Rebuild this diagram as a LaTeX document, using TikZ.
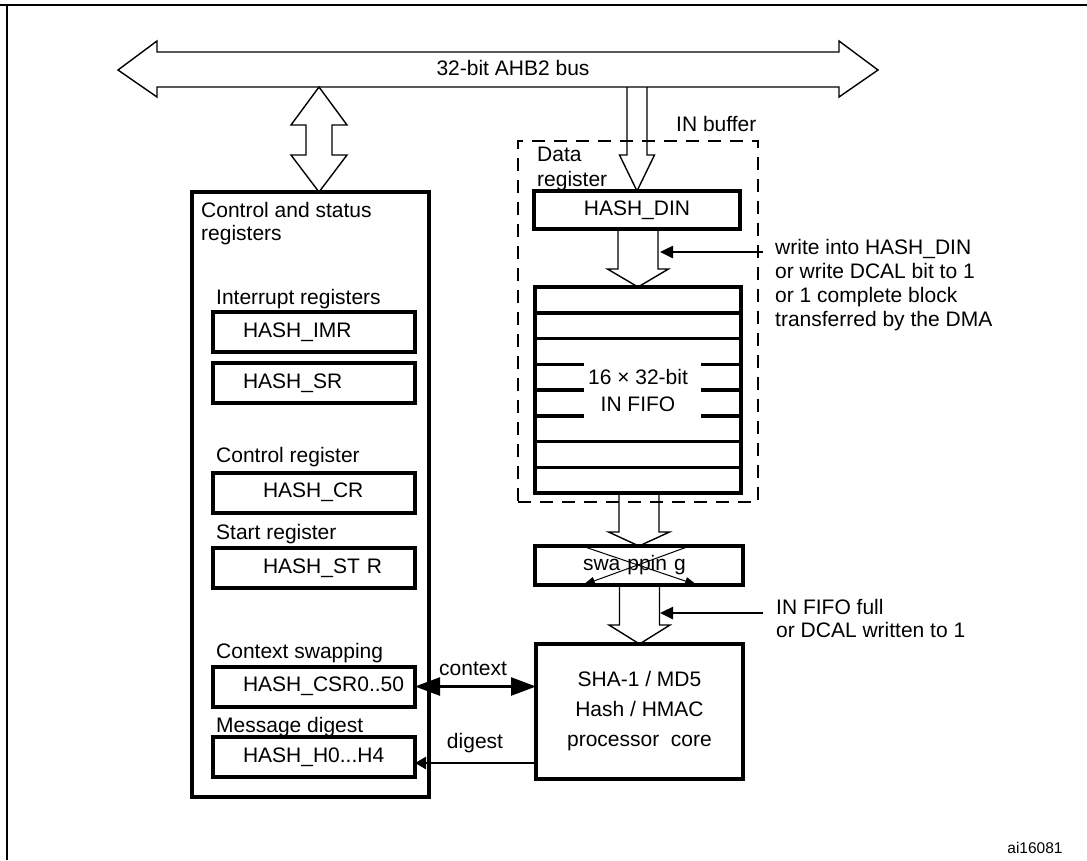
\documentclass[tikz,border=0pt]{standalone}
\usepackage{fontspec}
\setmainfont{Liberation Sans}
\usetikzlibrary{calc,arrows.meta}

% hollow block arrow pointing down: from, to, half shaft, half head, head length
\newcommand{\hollowdown}[5]{%
  \draw[hollow] let \p1 = (#1), \p2 = (#2) in
    (\x2-#3pt,\y1) -- (\x2-#3pt,\y2+#5pt) -- (\x2-#4pt,\y2+#5pt) -- (\x2,\y2)
    -- (\x2+#4pt,\y2+#5pt) -- (\x2+#3pt,\y2+#5pt) -- (\x2+#3pt,\y1);}

\begin{document}
\begin{tikzpicture}[x=1pt, y=-1pt,
                    font=\fontsize{21}{24}\selectfont,
                    blk/.style = {draw, line width=4pt, inner sep=0pt, outer sep=0pt},
                    reg/.style = {blk, minimum width=202pt, minimum height=40pt, align=left},
                    hollow/.style = {line width=1.4pt, line join=miter},
                    row/.style = {line width=3.5pt},
                    trig/.style = {line width=2.5pt, -{Triangle[length=13pt, width=12pt]}},
                    swp/.style = {line width=1pt, -{Triangle[length=12pt, width=8pt]}},
                    lbl/.style = {anchor=base west, inner sep=0pt},
                    para/.style = {anchor=north west, inner sep=0pt, align=left}
                ]
                \useasboundingbox (0,0) rectangle (1087,860);

                % frame
                \draw[line width=2.5pt] (0,5) -- (1087,5);
                \draw[line width=2.5pt] (7,5) -- (7,860);

                % bus
                \draw[hollow] (118,70) -- (157,41) -- (157,52) -- (839,52) -- (839,41) -- (878,70)
                    -- (839,97) -- (839,87) -- (157,87) -- (157,97) -- cycle;
                \node (bus) at (513,68) {32-bit AHB2 bus};
                \coordinate (busL) at (319,87);
                \coordinate (busR) at (638,87);

                % control and status registers
                \node[blk, minimum width=237pt, minimum height=605pt] (ctrl) at (310.5,494.5) {};
                \draw[hollow] let \p1 = (busL), \p2 = (ctrl.north) in
                    (\x1,\y1) -- (\x1+28pt,\y1-38pt) -- (\x1+13pt,\y1-38pt) -- (\x1+13pt,\y2+37pt)
                    -- (\x1+28pt,\y2+37pt) -- (\x1,\y2) -- (\x1-28pt,\y2+37pt) -- (\x1-13pt,\y2+37pt)
                    -- (\x1-13pt,\y1-38pt) -- (\x1-28pt,\y1-38pt) -- cycle;

                \node[para, font=\fontsize{21}{23}\selectfont] (ctrllbl) at (201,202) {Control and status\\registers};
                \node[lbl] (irqlbl) at (216,304.5) {Interrupt registers};
                \node[reg, text width=142pt] (imr) at (314,332) {HASH\_IMR};
                \node[reg, text width=142pt] (sr) at (314,383) {HASH\_SR};
                \node[lbl] (crlbl) at (216,462.5) {Control register};
                \node[reg, text width=102pt] (cr) at (314,492.5) {HASH\_CR};
                \node[lbl] (strlbl) at (216,539.5) {Start register};
                \node[reg, text width=102pt] (str) at (314,568) {\mbox{HASH\_ST R}};
                \node[lbl] (csrlbl) at (216,658.5) {Context swapping};
                \node[reg, text width=142pt] (csr) at (314,686.5) {\mbox{HASH\_CSR0..50}};
                \node[lbl] (hlbl) at (216,732.5) {Message digest};
                \node[reg, text width=142pt] (hreg) at (314,757) {\mbox{HASH\_H0...H4}};

                % IN buffer
                \node[draw, line width=2pt, dash pattern=on 13pt off 9pt, minimum width=240pt,
                      minimum height=361pt, inner sep=0pt] (inbuf) at (638,321.5) {};
                \node[lbl] (inbuflbl) at (676,131.5) {IN buffer};
                \node[para, font=\fontsize{21}{25}\selectfont] (dreglbl) at (537,147) {Data\\register};
                \node[blk, minimum width=206pt, minimum height=38pt] (din) at (637,210) {HASH\_DIN};
                \node[blk, minimum width=206pt, minimum height=206pt, align=center,
                      font=\fontsize{21}{27}\selectfont] (fifo) at (638,390) {16 × 32-bit\\IN FIFO};
                \foreach \k in {1,2,6,7}
                    \draw[row] ($(fifo.north west)+(0,25.75*\k)$) -- ($(fifo.north east)+(0,25.75*\k)$);
                \foreach \k in {3,4,5} {
                    \draw[row] ($(fifo.north west)+(0,25.75*\k)$) -- +(49,0);
                    \draw[row] ($(fifo.north east)+(0,25.75*\k)$) -- +(-40,0);
                }

                % swapping and core
                \node[blk, minimum width=208pt, minimum height=39pt, text width=112pt, align=left] (swap) at (639,565.5) {\mbox{swa ppin g}};
                \draw[swp] (585,547) -- (697,585);
                \draw[swp] (687,547) -- (583,585);
                \node[blk, minimum width=207pt, minimum height=135pt, align=center,
                      font=\fontsize{21}{30}\selectfont] (core) at (639.5,711.5) {SHA-1 / MD5\\Hash / HMAC\\processor\ \ core};

                \hollowdown{busR}{din.north}{10}{17.5}{36}
                \hollowdown{din.south}{fifo.north}{20}{30.5}{18}
                \hollowdown{fifo.south}{swap.north}{20}{30.5}{14}
                \hollowdown{swap.south}{core.north}{20}{30.5}{19}

                % triggers
                \node[para] (wrtxt) at (775,239) {write into HASH\_DIN\\or write DCAL bit to 1\\or 1 complete block\\transferred by the DMA};
                \coordinate (wrin) at (660,252);
                \coordinate (wrout) at (763,252);
                \draw[trig] (wrout) -- (wrin);

                \node[para, font=\fontsize{21}{23}\selectfont] (fulltxt) at (776,599) {IN FIFO full\\or DCAL written to 1};
                \coordinate (fullin) at (660,613);
                \coordinate (fullout) at (763,613);
                \draw[trig] (fullout) -- (fullin);

                % context and digest
                \draw[line width=2.5pt, {Triangle[length=25pt, width=18pt]}-{Triangle[length=25pt, width=18pt]}]
                    (csr.east) -- (csr.east -| core.west);
                \node[anchor=base] (ctxlbl) at (473,675.5) {context};
                \coordinate (dig) at ([yshift=-6pt]hreg.east);
                \draw[line width=2.5pt, -{Triangle[length=11pt, width=12pt]}] (core.west |- dig) -- (dig);
                \node[anchor=base] (diglbl) at (475,748.5) {digest};

                \node[anchor=base, font=\fontsize{15.5}{18}\selectfont] (figid) at (1035,853.5) {ai16081};

            \end{tikzpicture}
\end{document}
